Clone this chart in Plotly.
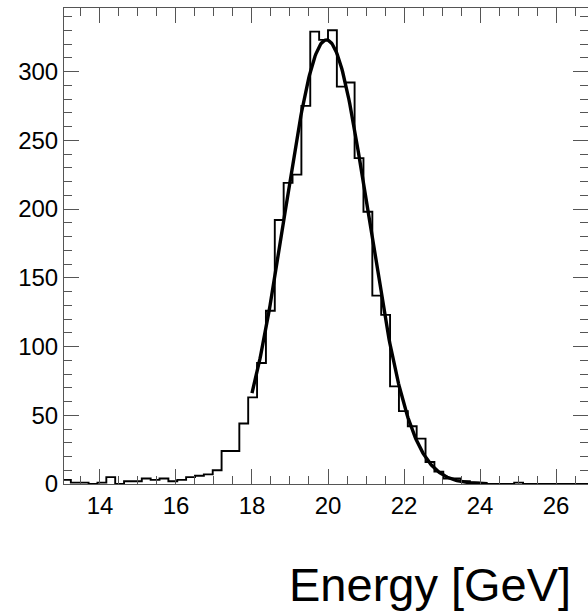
import numpy as np
import plotly.graph_objects as go

# Histogram definition (60 bins from 13 to 27 GeV)
bin_low = 13.0
bin_high = 27.0
counts = [3, 1, 1, 0, 1, 5, 0, 2, 2, 4,
          3, 4, 2, 3, 5, 6, 7, 10, 24, 24,
          44, 63, 88, 126, 192, 219, 225, 275, 329, 323,
          330, 289, 292, 237, 198, 137, 123, 71, 53, 42,
          33, 16, 9, 4, 4, 2, 1, 0, 0, 0,
          0, 1, 0, 0, 0, 0, 0, 0, 0, 0]

# Gaussian fit parameters
fit_amp = 323.0
fit_mean = 19.96
fit_sigma = 1.10
fit_min = 18.0
fit_max = 24.2

x_tick_vals = [14, 16, 18, 20, 22, 24, 26]
x_tick_text = ["14", "16", "18", "20", "22", "24", "26"]
y_tick_vals = [0, 50, 100, 150, 200, 250, 300]
y_tick_text = ["0", "50", "100", "150", "200", "250", "300"]
x_title = "Energy [GeV]"

nb = len(counts)
edges = np.linspace(bin_low, bin_high, nb + 1)
step_x = list(edges)
step_y = list(counts) + [counts[-1]]

fx = np.linspace(fit_min, fit_max, 300)
fy = fit_amp * np.exp(-0.5 * ((fx - fit_mean) / fit_sigma) ** 2)

fig = go.Figure()
fig.add_trace(go.Scatter(x=step_x, y=step_y, mode="lines",
                         line=dict(shape="hv", color="black", width=1.9),
                         hoverinfo="skip", showlegend=False))
fig.add_trace(go.Scatter(x=fx, y=fy, mode="lines",
                         line=dict(color="black", width=3.4),
                         hoverinfo="skip", showlegend=False))

font_family = "Liberation Sans, Arial, sans-serif"
axis_color = "#555555"
tick_size = 24

fig.update_layout(
    width=588, height=612,
    margin=dict(l=64, r=0, t=8, b=128),
    paper_bgcolor="white", plot_bgcolor="white",
    font=dict(family=font_family, color="black"),
    xaxis=dict(range=[13.053, 26.842], tickvals=x_tick_vals, ticktext=x_tick_text,
               ticks="inside", ticklen=15, tickwidth=1, tickcolor=axis_color,
               minor=dict(dtick=0.5, tick0=0, ticks="inside", ticklen=8,
                          tickwidth=1, tickcolor=axis_color, showgrid=False),
               showline=True, linecolor=axis_color, linewidth=1, mirror="ticks",
               showgrid=False, zeroline=False,
               tickfont=dict(size=tick_size, family=font_family, color="black")),
    yaxis=dict(range=[0, 346.2], tickvals=y_tick_vals, ticktext=y_tick_text,
               ticks="inside", ticklen=15, tickwidth=1, tickcolor=axis_color,
               minor=dict(dtick=10, tick0=0, ticks="inside", ticklen=8,
                          tickwidth=1, tickcolor=axis_color, showgrid=False),
               showline=True, linecolor=axis_color, linewidth=1, mirror="ticks",
               showgrid=False, zeroline=False,
               tickfont=dict(size=tick_size, family=font_family, color="black")),
    annotations=[dict(text=x_title, xref="paper", yref="paper",
                      x=(573 - 64) / 524, y=(484 - 584) / 476,
                      xanchor="right", yanchor="middle", showarrow=False,
                      font=dict(size=47, family=font_family, color="black"))],
)

fig.write_html("out.html")
